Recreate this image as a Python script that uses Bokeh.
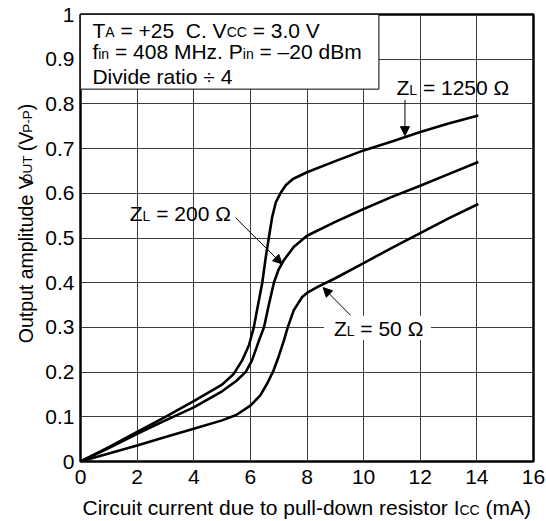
import math
from bokeh.plotting import figure
from bokeh.models import Label, Arrow, NormalHead, FixedTicker
from bokeh.layouts import row, column
from bokeh.embed import file_html
from bokeh.resources import INLINE

# ---------------- data ----------------
x_ticks = [0, 2, 4, 6, 8, 10, 12, 14, 16]
y_ticks = [0, 0.1, 0.2, 0.3, 0.4, 0.5, 0.6, 0.7, 0.8, 0.9, 1]
y_tick_labels = ["0", "0.1", "0.2", "0.3", "0.4", "0.5", "0.6", "0.7", "0.8", "0.9", "1"]

icc_1250 = [0, 1, 2, 3, 4, 5, 5.4, 5.7, 5.95, 6.12, 6.3, 6.42, 6.55, 6.65, 6.77, 6.9, 7.06, 7.25, 7.5, 8, 9, 10, 11, 12, 13, 14.05]
vout_1250 = [0, 0.032, 0.066, 0.1, 0.135, 0.172, 0.195, 0.225, 0.26, 0.3, 0.36, 0.4, 0.46, 0.5, 0.547, 0.58, 0.6, 0.618, 0.632, 0.647, 0.672, 0.696, 0.716, 0.737, 0.756, 0.774]

icc_200 = [0, 1, 2, 3, 4, 5, 5.5, 5.83, 6.05, 6.18, 6.3, 6.48, 6.65, 6.83, 7.0, 7.18, 7.53, 8, 9, 10, 11, 12, 13, 14.05]
vout_200 = [0, 0.03, 0.062, 0.092, 0.121, 0.157, 0.18, 0.2, 0.225, 0.248, 0.27, 0.3, 0.35, 0.4, 0.43, 0.45, 0.48, 0.505, 0.536, 0.565, 0.592, 0.617, 0.643, 0.67]

icc_50 = [0, 1, 2, 3, 4, 5, 5.5, 6, 6.35, 6.6, 6.82, 7.0, 7.18, 7.32, 7.53, 7.83, 8.0, 8.36, 9, 10, 11, 12, 13, 14.05]
vout_50 = [0, 0.018, 0.036, 0.055, 0.073, 0.092, 0.104, 0.125, 0.148, 0.175, 0.204, 0.235, 0.27, 0.3, 0.338, 0.368, 0.377, 0.39, 0.41, 0.444, 0.478, 0.511, 0.544, 0.576]

x_title = [("Circuit current due to pull-down resistor I", "big"), ("CC", "small"), (" (mA)", "big")]
y_title = [("Output amplitude V", "big"), ("OUT", "small"), (" (V", "big"), ("P-P", "small"), (")", "big")]

# ---------------- layout ----------------
TOTAL_W, TOTAL_H = 546, 521
LEFT_W = 40            # strip holding the vertical axis title
BOTTOM_H = 28          # strip holding the horizontal axis title
W, H = TOTAL_W - LEFT_W, TOTAL_H - BOTTOM_H
ML, MR, MT = 40, 13, 14
MB = H - MT - 447
FW, FH = W - ML - MR, H - MT - MB
XMAX, YMAX = 16, 1
FONT = "Liberation Sans"
BIG, SMALL = 21, 14
MID = 0.3465   # distance baseline -> vertical middle of the text box, in em

p = figure(width=W, height=H, x_range=(0, XMAX), y_range=(0, YMAX), title=None,
           output_backend="svg", toolbar_location=None,
           min_border_left=ML, min_border_right=MR, min_border_top=MT, min_border_bottom=MB)
p.background_fill_color = "white"
p.border_fill_color = "white"
p.outline_line_color = "black"
p.outline_line_width = 2.5

for ax in (p.xaxis[0], p.yaxis[0]):
    ax.axis_line_color = None
    ax.major_tick_line_color = None
    ax.minor_tick_line_color = None
    ax.major_tick_in = 0
    ax.major_tick_out = 0
    ax.major_label_text_font = FONT
    ax.major_label_text_font_size = "21px"
    ax.major_label_text_color = "black"
p.yaxis[0].major_label_standoff = 6
p.xaxis[0].major_label_standoff = 8
p.xaxis[0].ticker = FixedTicker(ticks=x_ticks)
p.yaxis[0].ticker = FixedTicker(ticks=y_ticks)
p.yaxis[0].major_label_overrides = dict(zip(y_ticks, y_tick_labels))

p.xgrid[0].ticker = FixedTicker(ticks=x_ticks)
p.ygrid[0].ticker = FixedTicker(ticks=y_ticks)
for g in (p.xgrid[0], p.ygrid[0]):
    g.grid_line_color = "#3c3c3c"
    g.grid_line_width = 1
    g.grid_line_alpha = 1

# condition box (white, bordered)
p.quad(left=[0], right=[10.54], bottom=[0.833], top=[YMAX], fill_color="white", line_color="black", line_width=1)
# white gap behind the 50 ohm label
p.quad(left=[8.6], right=[12.38], bottom=[0.272], top=[0.326], fill_color="white", line_color=None)

for xs, ys in ((icc_1250, vout_1250), (icc_200, vout_200), (icc_50, vout_50)):
    p.line(xs, ys, line_color="black", line_width=2.6, line_join="round")

# text width helper (Arial / Liberation Sans metrics)
ADV = {' ': 278, '\u00a0': 278, '(': 333, ')': 333, '+': 584, '-': 333, '.': 278, '=': 584, '÷': 584, '–': 556,
       'A': 667, 'C': 722, 'D': 722, 'H': 722, 'I': 278, 'L': 556, 'M': 833, 'O': 778, 'P': 667,
       'T': 611, 'U': 722, 'V': 667, 'Z': 611, 'a': 556, 'b': 556, 'c': 500, 'd': 556, 'e': 556,
       'f': 278, 'h': 556, 'i': 222, 'l': 222, 'm': 833, 'n': 556, 'o': 556, 'p': 556, 'r': 333,
       's': 500, 't': 278, 'u': 556, 'v': 500, 'w': 722, 'z': 500, 'Ω': 768}


def tw(s, size):
    return sum(ADV.get(c, 556) for c in s) / 1000.0 * size


def rich(fig, parts, x, y, sx, sy, vertical=False, gap=0.0):
    """Place text pieces of mixed size side by side on a common baseline (x, y).
    sx, sy = pixels per data unit.  Each piece is anchored at its vertical middle."""
    off = 0.0
    for s, size in parts:
        s = s.replace(" ", "\u00a0")
        m = MID * size
        w = tw(s, size)
        if vertical:
            # centre-anchored so that the rotation pivot is the middle of the piece
            lab = Label(x=x - m / sx, y=y + (off + w / 2) / sy, text=s, angle=math.pi / 2)
            lab.text_align = "center"
        else:
            lab = Label(x=x + off / sx, y=y + m / sy, text=s)
            lab.text_align = "left"
        lab.text_font = FONT
        lab.text_font_size = f"{size}px"
        lab.text_color = "black"
        lab.text_baseline = "middle"
        fig.add_layout(lab)
        off += w + gap


SX, SY = FW / XMAX, FH / YMAX

# condition texts
rich(p, [("T", BIG), ("A", SMALL), (" = +25  C. V", BIG), ("CC", SMALL), (" = 3.0 V", BIG)], 0.42, 0.949, SX, SY)
rich(p, [("f", BIG), ("in", SMALL), (" = 408 MHz. P", BIG), ("in", SMALL), (" = –20 dBm", BIG)], 0.42, 0.901, SX, SY)
rich(p, [("Divide ratio ÷ 4", BIG)], 0.42, 0.845, SX, SY)

# curve labels
rich(p, [("Z", BIG), ("L", SMALL), (" = 1250 Ω", BIG)], 11.16, 0.820, SX, SY)
rich(p, [("Z", BIG), ("L", SMALL), (" = 200 Ω", BIG)], 1.74, 0.539, SX, SY)
rich(p, [("Z", BIG), ("L", SMALL), (" = 50 Ω", BIG)], 8.95, 0.282, SX, SY)

# arrows
for xs_, ys_, xe_, ye_ in ((11.46, 0.809, 11.46, 0.729), (5.48, 0.545, 7.12, 0.442), (9.54, 0.327, 8.57, 0.389)):
    p.add_layout(Arrow(x_start=xs_, y_start=ys_, x_end=xe_, y_end=ye_, line_color="black", line_width=1,
                       end=NormalHead(size=9, fill_color="black", line_color="black")))


def strip(w, h):
    f = figure(width=w, height=h, x_range=(0, w), y_range=(0, h), title=None, output_backend="svg",
               toolbar_location=None, x_axis_location=None, y_axis_location=None,
               min_border=0, min_border_left=0, min_border_right=0, min_border_top=0, min_border_bottom=0)
    f.outline_line_color = None
    f.grid.visible = False
    f.background_fill_color = "white"
    f.border_fill_color = "white"
    return f


# vertical axis title (pixel coordinates inside its strip)
left = strip(LEFT_W, H)
sizes_y = {"big": 19.5, "small": 13.5}
rich(left, [(s, sizes_y[k]) for s, k in y_title], 32, H - 354.0, 1, 1, vertical=True, gap=1.5)

# horizontal axis title
bottom = strip(TOTAL_W, BOTTOM_H)
sizes_x = {"big": BIG, "small": SMALL}
rich(bottom, [(s, sizes_x[k]) for s, k in x_title], LEFT_W + ML + 2, 7, 1, 1)

layout = column(row(left, p, spacing=0), bottom, spacing=0)
open("out.html", "w").write(file_html(layout, INLINE))
